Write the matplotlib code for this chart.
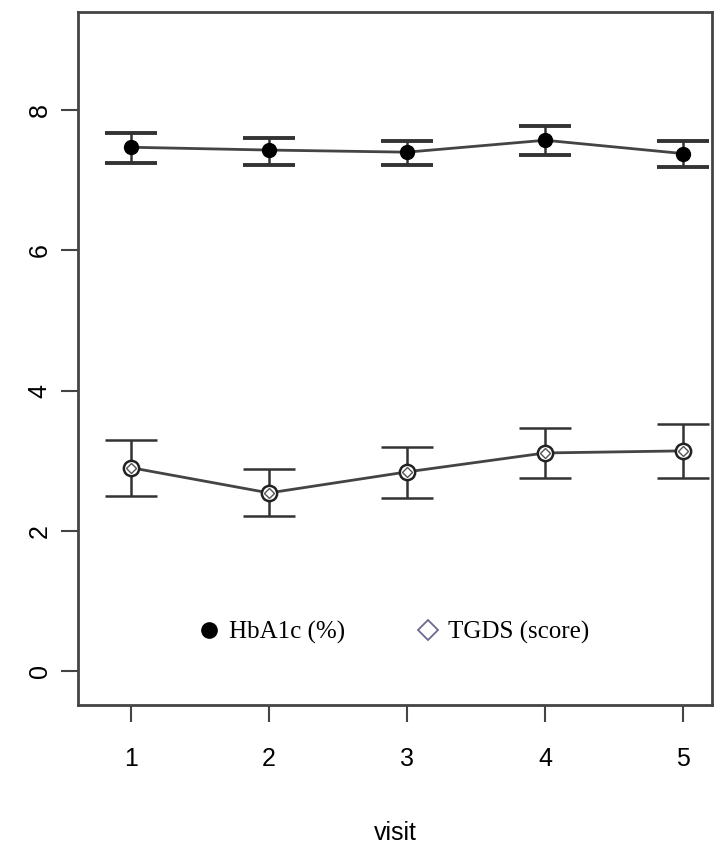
import matplotlib.pyplot as plt
from matplotlib.lines import Line2D

visit = [1, 2, 3, 4, 5]
hba1c = [7.47, 7.43, 7.40, 7.57, 7.38]
hba1c_lo = [7.25, 7.22, 7.22, 7.36, 7.19]
hba1c_hi = [7.67, 7.60, 7.56, 7.77, 7.56]
tgds = [2.90, 2.54, 2.84, 3.11, 3.14]
tgds_lo = [2.50, 2.21, 2.47, 2.75, 2.75]
tgds_hi = [3.30, 2.88, 3.20, 3.47, 3.52]

plt.rcParams['font.family'] = ['Liberation Sans', 'DejaVu Sans']

fig = plt.figure(figsize=(7.23, 8.52), dpi=100)
ax = fig.add_axes([0.1079, 0.1725, 0.877, 0.8135])

def errs(m, lo, hi):
    return [[a - b for a, b in zip(m, lo)], [b - a for a, b in zip(m, hi)]]

ax.errorbar(visit, hba1c, yerr=errs(hba1c, hba1c_lo, hba1c_hi), fmt='o', color='black',
            ecolor='#333333', elinewidth=1.8, capsize=19, capthick=2.8, markersize=10, zorder=3)
ax.plot(visit, hba1c, color='#444444', lw=2, zorder=2)

ax.errorbar(visit, tgds, yerr=errs(tgds, tgds_lo, tgds_hi), fmt='o', color='black',
            mfc='white', mec='#222222', mew=1.8, ecolor='#333333', elinewidth=1.8,
            capsize=19, capthick=2.8, markersize=11, zorder=3)
ax.plot(visit, tgds, 'D', mfc='none', mec='#555555', mew=1, markersize=5, zorder=4)
ax.plot(visit, tgds, color='#444444', lw=2, ls='-', zorder=2)

ax.set_xlim(0.616, 5.21)
ax.set_ylim(-0.485, 9.4)
ax.set_xticks(visit)
ax.set_yticks([0, 2, 4, 6, 8])
ax.tick_params(axis='both', direction='out', length=12, width=1.5, color='#444444',
               labelsize=18)
ax.tick_params(axis='x', pad=18)
ax.tick_params(axis='y', pad=7)
for lab in ax.get_yticklabels():
    lab.set_rotation(90)
    lab.set_va('center')
for s in ax.spines.values():
    s.set_linewidth(2)
    s.set_color('#444444')
ax.set_xlabel('visit', fontsize=18, labelpad=36)

handles = [Line2D([], [], marker='o', ls='none', color='black', markersize=11),
           Line2D([], [], marker='D', ls='none', mfc='white', mec='#6a6a90', mew=1.3, markersize=10)]
ax.legend(handles, ['HbA1c (%)', 'TGDS (score)'], loc='center', bbox_to_anchor=(0.497, 0.105),
          ncol=2, frameon=False, handletextpad=0.3, columnspacing=2.8, handlelength=1.0,
          prop={'family': 'Liberation Serif', 'size': 18})

fig.savefig('out.png', dpi=100)
